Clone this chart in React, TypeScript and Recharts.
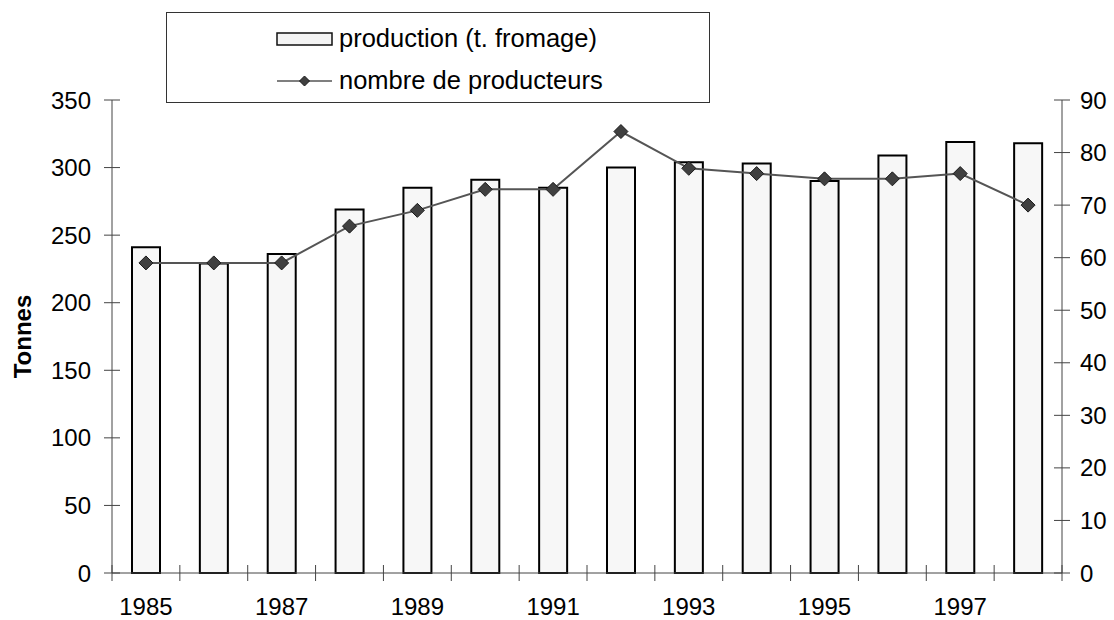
import React from "react";
import {
  ComposedChart,
  Bar,
  Line,
  XAxis,
  YAxis,
} from "recharts";

const YEARS = ["1985", "1986", "1987", "1988", "1989", "1990", "1991", "1992", "1993", "1994", "1995", "1996", "1997", "1998"];
const PRODUCTION = [241, 229, 236, 269, 285, 291, 285, 300, 304, 303, 290, 309, 319, 318];
const PRODUCERS = [59, 59, 59, 66, 69, 73, 73, 84, 77, 76, 75, 75, 76, 70];
const LEFT_TICKS = [0, 50, 100, 150, 200, 250, 300, 350];
const RIGHT_TICKS = [0, 10, 20, 30, 40, 50, 60, 70, 80, 90];
const SHOWN_YEARS = ["1985", "1987", "1989", "1991", "1993", "1995", "1997"];

const data = YEARS.map((year, i) => ({
  year,
  production: PRODUCTION[i],
  producteurs: PRODUCERS[i],
}));

const W = 1114;
const H = 620;
const LEFT_W = 112;
const RIGHT_W = 52;
const BAND = (W - LEFT_W - RIGHT_W) / YEARS.length;
const FONT = "'Liberation Sans', Arial, sans-serif";
const AXIS = "#444";

// ticks cross the axis line (8px each side), like the original
function LeftTick(props: any) {
  const { x, y, payload } = props;
  const ax = x + 8 + 13;
  return (
    <g>
      <line x1={ax - 8} x2={ax + 8} y1={y} y2={y} stroke={AXIS} />
      <text x={x} y={y} textAnchor="end" dominantBaseline="central" fontSize={24} fontFamily={FONT} fill="#000">
        {payload.value}
      </text>
    </g>
  );
}

function RightTick(props: any) {
  const { x, y, payload } = props;
  const ax = x - 8 - 10;
  return (
    <g>
      <line x1={ax - 8} x2={ax + 8} y1={y} y2={y} stroke={AXIS} />
      <text x={x} y={y} textAnchor="start" dominantBaseline="central" fontSize={24} fontFamily={FONT} fill="#000">
        {payload.value}
      </text>
    </g>
  );
}

function YearTick(props: any) {
  const { x, y, payload, index } = props;
  const ay = y - 8;
  const last = index === YEARS.length - 1;
  return (
    <g>
      <line x1={x - BAND / 2} x2={x - BAND / 2} y1={ay - 8} y2={ay + 8} stroke={AXIS} />
      {last && <line x1={x + BAND / 2} x2={x + BAND / 2} y1={ay - 8} y2={ay + 8} stroke={AXIS} />}
      {SHOWN_YEARS.includes(payload.value) && (
        <text x={x} y={ay + 41.5} textAnchor="middle" fontSize={24} fontFamily={FONT} fill="#000">
          {payload.value}
        </text>
      )}
    </g>
  );
}

const Diamond = (p: any) => {
  if (p.cx == null || p.cy == null) return null;
  const { cx, cy } = p;
  return (
    <polygon
      points={`${cx},${cy - 7} ${cx + 7},${cy} ${cx},${cy + 7} ${cx - 7},${cy}`}
      fill="#404040"
      stroke="#1a1a1a"
      strokeWidth={1}
    />
  );
};

export default function App() {
  return (
    <div style={{ position: "absolute", left: 0, top: 0, width: W, height: H, background: "#fff", fontFamily: FONT }}>
      <ComposedChart width={W} height={H} data={data} margin={{ top: 100, right: 0, bottom: 0, left: 0 }}>
        <XAxis
          dataKey="year"
          height={47}
          interval={0}
          tickSize={8}
          tickMargin={0}
          tickLine={false}
          tick={<YearTick />}
          axisLine={{ stroke: AXIS }}
        />
        <YAxis
          yAxisId="left"
          width={LEFT_W}
          domain={[0, 350]}
          ticks={LEFT_TICKS}
          tickSize={8}
          tickMargin={13}
          tickLine={false}
          tick={<LeftTick />}
          axisLine={{ stroke: AXIS }}
          label={{
            value: "Tonnes",
            angle: -90,
            position: "insideLeft",
            offset: 22,
            style: { textAnchor: "middle", fontWeight: "bold", fontSize: 24, fill: "#000", fontFamily: FONT },
          }}
        />
        <YAxis
          yAxisId="right"
          orientation="right"
          width={RIGHT_W}
          domain={[0, 90]}
          ticks={RIGHT_TICKS}
          tickSize={8}
          tickMargin={10}
          tickLine={false}
          tick={<RightTick />}
          axisLine={{ stroke: AXIS }}
        />
        <Bar
          yAxisId="left"
          dataKey="production"
          barSize={28}
          fill="#f7f7f7"
          stroke="#000"
          strokeWidth={2}
          isAnimationActive={false}
        />
        <Line
          yAxisId="right"
          dataKey="producteurs"
          stroke="#555"
          strokeWidth={2}
          dot={<Diamond />}
          activeDot={false}
          isAnimationActive={false}
        />
      </ComposedChart>

      {/* legend box drawn on top, outside recharts layout */}
      <div
        style={{
          position: "absolute",
          left: 166,
          top: 12,
          width: 544,
          height: 91,
          border: "1px solid #333",
          boxSizing: "border-box",
          background: "#fff",
        }}
      >
        <svg width={544} height={91} style={{ position: "absolute", left: -1, top: -1 }}>
          <rect x={111} y={21} width={55} height={12} fill="#f4f4f4" stroke="#111" strokeWidth={1.5} />
          <text x={173} y={35} fontSize={25.5} fontFamily={FONT} fill="#000">
            production (t. fromage)
          </text>
          <line x1={111} x2={166} y1={69} y2={69} stroke="#555" strokeWidth={1.5} />
          <polygon points="138.5,64 143.5,69 138.5,74 133.5,69" fill="#404040" stroke="#1a1a1a" strokeWidth={1} />
          <text x={173} y={77} fontSize={25.5} fontFamily={FONT} fill="#000">
            nombre de producteurs
          </text>
        </svg>
      </div>
    </div>
  );
}
